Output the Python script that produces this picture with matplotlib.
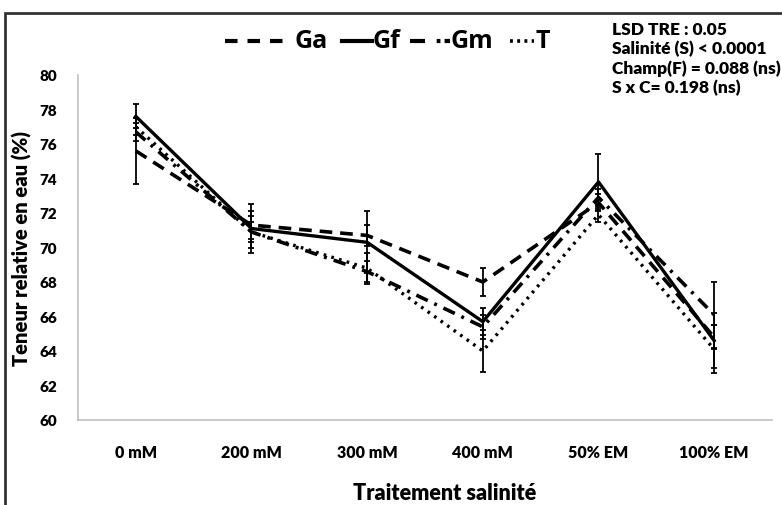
import matplotlib
matplotlib.use("Agg")
import matplotlib.pyplot as plt
from matplotlib.patches import Rectangle
from matplotlib.lines import Line2D

plt.rcParams['font.family'] = ['Lato', 'DejaVu Sans']

categories = ["0 mM", "200 mM", "300 mM", "400 mM", "50% EM", "100% EM"]
series_names = ["Ga", "Gf", "Gm", "T"]
ga = [75.6, 71.3, 70.7, 68.0, 72.6, 64.8]
gf = [77.6, 71.1, 70.3, 65.7, 73.8, 64.6]
gm = [76.7, 70.9, 68.6, 65.4, 72.9, 66.1]
t = [77.0, 70.9, 68.8, 64.0, 71.9, 64.1]
ga_err = [1.9, 0.8, 0.6, 0.8, 0.5, 0.7]
gf_err = [0.7, 1.4, 1.8, 0.8, 1.6, 1.6]
gm_err = [0.5, 0.6, 0.6, 0.7, 0.5, 1.9]
t_err = [0.5, 0.9, 0.9, 1.2, 0.4, 1.4]
yticks = [60, 62, 64, 66, 68, 70, 72, 74, 76, 78, 80]
stats_text = ["LSD TRE : 0.05", "Salinité (S) < 0.0001",
              "Champ(F) = 0.088 (ns)", "S x C= 0.198 (ns)"]

W, H = 782, 506
fig = plt.figure(figsize=(W/100, H/100), dpi=100)
ax = fig.add_axes([78/W, 1-421/H, (772-78)/W, (421-76)/H])

def fx(px):
    return px / W

def fy(py):
    return 1 - py / H

x = list(range(len(categories)))
styles = [
    dict(linestyle=(0, (3.5, 2.2)), linewidth=2.6),
    dict(linestyle='-', linewidth=2.4),
    dict(linestyle=(0, (3.5, 2.0, 0.8, 2.0)), linewidth=2.6),
    dict(linestyle=(0, (0.8, 1.6)), linewidth=2.4),
]
data = [ga, gf, gm, t]
errs = [ga_err, gf_err, gm_err, t_err]
for name, vals, err, st in zip(series_names, data, errs, styles):
    ax.errorbar(x, vals, yerr=err, color='black', ecolor='black', elinewidth=1.3,
                capsize=2.5, capthick=1.3, linestyle='none', zorder=2)
    ax.plot(x, vals, color='black', zorder=3, dash_capstyle='butt', **st)

ax.set_xlim(-0.5, len(categories) - 0.5)
ax.set_ylim(60, 80)
ax.set_yticks(yticks)
ax.set_yticklabels([str(v) for v in yticks], fontsize=11, fontweight='heavy')
ax.set_xticks(x)
ax.set_xticklabels(categories, fontsize=11.5, fontweight='heavy')
ax.tick_params(axis='both', length=0)
ax.tick_params(axis='x', pad=17)
ax.tick_params(axis='y', pad=15)
for s in ['top', 'right']:
    ax.spines[s].set_visible(False)
for s in ['left', 'bottom']:
    ax.spines[s].set_color('#bfbfbf')
    ax.spines[s].set_linewidth(1.2)

ax.set_ylabel("Teneur relative en eau (%)", fontsize=14.5, fontweight='heavy')
ax.yaxis.set_label_coords((32-78)/694, 0.5)
ax.set_xlabel("Traitement salinité", fontsize=15.5, fontweight='heavy', va='center')
ax.xaxis.set_label_coords((445-78)/694, -(494-421)/345)

# legend drawn manually (Excel style with handles of different lengths)
leg_y = 42
leg_items = [
    ("Ga", 225, 292, dict(linestyle=(0, (3.0, 2.4)), linewidth=3.0), 294),
    ("Gf", 342, 372, dict(linestyle='-', linewidth=3.0), 373),
    ("Gm", 410, 450, dict(linestyle=(0, (3.6, 2.8, 0.9, 1.0)), linewidth=3.0), 451),
    ("T", 510, 534, dict(linestyle=(0, (0.8, 1.2)), linewidth=2.6), 535),
]
for label, x0, x1, st, tx in leg_items:
    fig.add_artist(Line2D([fx(x0), fx(x1)], [fy(leg_y), fy(leg_y)],
                          transform=fig.transFigure, color='black',
                          dash_capstyle='butt', **st))
    fig.text(fx(tx), fy(leg_y), label, fontsize=18, fontweight='bold',
             ha='left', va='center', family=['Open Sans', 'DejaVu Sans'])

fig.text(fx(612), fy(22), "\n".join(stats_text), fontsize=12.5, fontweight='heavy',
         va='top', ha='left', linespacing=1.22)

fig.patches.append(Rectangle((5/W, -0.1), 1.2, 1-14/H+0.1, transform=fig.transFigure,
                             fill=False, edgecolor='#333333', linewidth=2))

fig.savefig("out.png", dpi=100)
